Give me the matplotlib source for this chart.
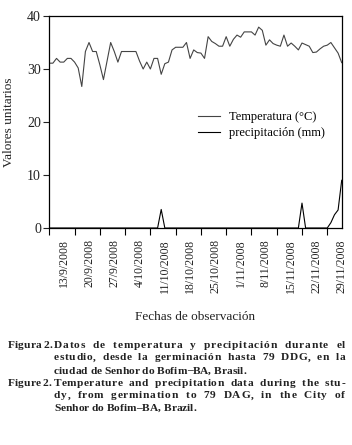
import numpy as np
import matplotlib
matplotlib.use('Agg')
import matplotlib.pyplot as plt
from matplotlib.font_manager import FontProperties
import pandas as pd

# daily values, 9/9/2008 .. 29/11/2008
fechas = pd.date_range('2008-09-09', '2008-11-29', freq='D')
temperatura = [31.1, 31.1, 32.0, 31.3, 31.3, 32.0, 32.0, 31.3, 30.2, 26.7,
               33.3, 35.0, 33.3, 33.3, 30.8, 28.0, 31.5, 35.0, 33.3, 31.3,
               33.3, 33.3, 33.3, 33.3, 33.3, 31.5, 30.0, 31.3, 30.0, 32.0,
               32.0, 29.0, 31.0, 31.3, 33.6, 34.1, 34.1, 34.1, 35.0, 32.0,
               33.6, 33.1, 33.0, 32.0, 36.1, 35.2, 34.8, 34.3, 34.3, 36.1,
               34.3, 35.6, 36.4, 36.0, 37.0, 37.0, 37.0, 36.4, 37.9, 37.3,
               34.5, 35.5, 34.8, 34.5, 34.3, 36.4, 34.3, 34.9, 34.3, 33.6,
               34.9, 34.6, 34.3, 33.1, 33.2, 33.8, 34.3, 34.5, 35.0, 34.0,
               33.0, 31.2]
precipitacion = [0.0] * 82
precipitacion[31] = 3.5
precipitacion[70] = 4.7
precipitacion[78] = 1.0
precipitacion[79] = 2.5
precipitacion[80] = 3.4
precipitacion[81] = 9.0

dias = np.arange(len(fechas))
pos_etiquetas = dias[4::7]
etiquetas = ['%d/%d/%d' % (f.day, f.month, f.year) for f in fechas[4::7]]

plt.rcParams['font.family'] = ['Liberation Serif', 'DejaVu Serif']

W, H = 352, 445
fig = plt.figure(figsize=(W / 100, H / 100), dpi=100)
ax = fig.add_axes([49.3 / W, 1 - 228 / H, (341.7 - 49.3) / W, (228 - 16) / H])

ax.plot(dias, temperatura, '-', color='#444444', lw=0.8, label='Temperatura (°C)')
ax.plot(dias, precipitacion, '-', color='black', lw=0.8, label='precipitación (mm)')

ax.set_xlim(0, 81)
ax.set_ylim(0, 40)
ax.set_yticks([0, 10, 20, 30, 40])
ax.tick_params(axis='y', direction='out', length=4, width=0.8, pad=2, labelsize=10, colors='#222222')

ax.set_xticks(np.arange(0, 81, 7))
ax.set_xticklabels([])
ax.tick_params(axis='x', which='major', direction='out', length=5, width=0.8)
ax.set_xticks(pos_etiquetas, minor=True)
ax.set_xticklabels(etiquetas, minor=True, rotation=90, fontsize=8.5, color='#222222')
ax.tick_params(axis='x', which='minor', length=0, pad=8)

for s in ax.spines.values():
    s.set_linewidth(0.9)

ax.set_ylabel('Valores unitarios', fontsize=9.5, color='#222222', labelpad=9)
ax.set_xlabel('Fechas de observación', fontsize=9.5, color='#222222', labelpad=13)

ax.legend(loc='center left', bbox_to_anchor=(0.47, 0.485), frameon=False, fontsize=9,
          handlelength=1.8, handletextpad=0.7, labelspacing=0.35)

# caption: justified with letter spacing, one glyph at a time
fig.canvas.draw()
r = fig.canvas.get_renderer()
fp = FontProperties(family='Liberation Serif', weight='bold', size=8.2)


def ancho(s):
    return r.get_text_width_height_descent(s, fp, ismath=False)[0]


def linea(texto, x0, x1, y, justificar):
    base = ancho('x')
    pos = [ancho(texto[:k] + 'x') - base for k in range(len(texto))]
    pesos = [6.0 if c == ' ' else 1.0 for c in texto[:-1]]
    extra = 0.0
    if justificar:
        extra = (x1 - x0 - ancho(texto)) / sum(pesos)
    corr = 0.0
    for k, c in enumerate(texto):
        if c != ' ':
            fig.text((x0 + pos[k] + corr) / W, 1 - y / H, c, fontproperties=fp,
                     color='#222222', va='center')
        if k < len(pesos):
            corr += extra * pesos[k]


filas = [345, 358, 371, 383.5, 396, 408.5]
linea('Figura 2.', 8, 50, filas[0], False)
linea('Datos de temperatura y precipitación durante el', 54, 345, filas[0], True)
linea('estudio, desde la germinación hasta 79 DDG, en la', 54, 345, filas[1], True)
linea('ciudad de Senhor do Bofim–BA, Brasil.', 54, 345, filas[2], False)
linea('Figure 2.', 8, 50, filas[3], False)
linea('Temperature and precipitation data during the stu-', 54, 345, filas[3], True)
linea('dy, from germination to 79 DAG, in the City of', 54, 345, filas[4], True)
linea('Senhor do Bofim–BA, Brazil.', 54, 345, filas[5], False)

fig.savefig('out.png', dpi=100)
